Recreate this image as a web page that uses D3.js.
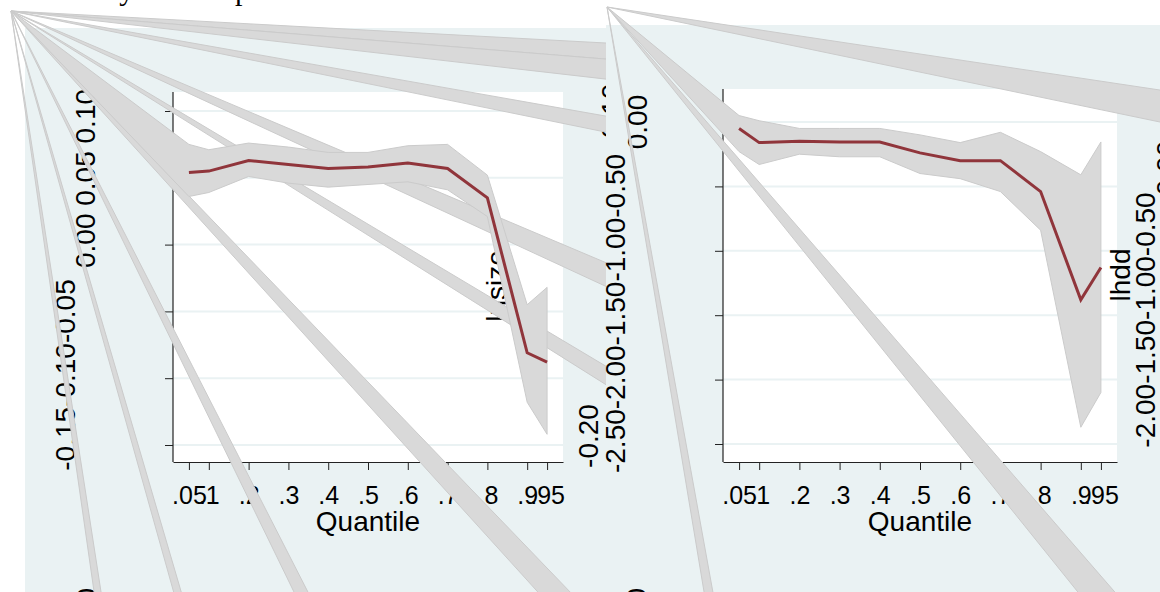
<!DOCTYPE html>
<html>
<head>
<meta charset="utf-8">
<script src="https://cdn.jsdelivr.net/npm/d3@7"></script>
<style>
html,body{margin:0;padding:0;background:#ffffff;}
svg{display:block;}
</style>
</head>
<body>
<svg id="chart" width="1160" height="592"></svg>
<script>
// ---------------- data ----------------
const quantiles    = [0.05, 0.1, 0.2, 0.3, 0.4, 0.5, 0.6, 0.7, 0.8, 0.9, 0.95];
const xTickLabels  = [".05", ".1", ".2", ".3", ".4", ".5", ".6", ".7", ".8", ".9", ".95"];

// panel 1 : lnsize
const sizeCoef  = [0.054, 0.055, 0.063, 0.060, 0.057, 0.058, 0.061, 0.057, 0.035, -0.081, -0.088];
const sizeUpper = [0.075, 0.071, 0.076, 0.073, 0.069, 0.069, 0.074, 0.075, 0.052, -0.045, -0.032];
const sizeLower = [0.036, 0.039, 0.051, 0.046, 0.043, 0.045, 0.047, 0.041, 0.021, -0.118, -0.142];
const sizeTicks = [-0.15, -0.10, -0.05, 0.00, 0.05, 0.10];
const sizeLabelsA = ["0.00", "0.05", "0.10"];
const sizeLabelsB = ["-0.15", "-0.10", "-0.05"];
const sizeLabelsC = ["-0.20"];
const sizeLabelsD = ["0.10"];

// panel 2 : lhdd
const hddCoef  = [-0.05, -0.16, -0.15, -0.155, -0.155, -0.24, -0.30, -0.30, -0.54, -1.38, -1.13];
const hddUpper = [0.05, 0.01, -0.05, -0.05, -0.05, -0.10, -0.16, -0.08, -0.23, -0.41, -0.155];
const hddLower = [-0.23, -0.33, -0.25, -0.27, -0.27, -0.40, -0.44, -0.54, -0.84, -2.37, -2.10];
const hddTicks = [-2.5, -2.0, -1.5, -1.0, -0.5, 0.0];
const hddLabelsA = ["-2.50", "-2.00", "-1.50", "-1.00", "-0.50"];
const hddLabelsB = ["0.00"];
const hddLabelsC = ["-2.00", "-1.50", "-1.00", "-0.50"];
const hddLabelsD = ["0.00"];

const titleText = "Elasticity of total price";
const xTitle = "Quantile";
const nextRowLabel = "0.00";

// ---------------- layout / style ----------------
const FONT = "'Liberation Sans', Arial, Helvetica, sans-serif";
const SERIF = "'Liberation Serif', 'Times New Roman', serif";
const BG = "#eaf2f3";
const BAND = "#d9d9d9";
const BAND_EDGE = "#cbcbcb";
const RED = "#90353b";

const svg = d3.select("#chart");

svg.append("text")
  .attr("x", 21).attr("y", 0)
  .attr("font-family", SERIF).attr("font-size", 30)
  .text(titleText);

const panels = [
  {
    bg: {x: 25, y: 28, w: 581, h: 600},
    plot: {x0: 173, x1: 563, y0: 92, y1: 462},
    yDomain: [-0.15, 0.10], yRange: [445, 111],
    ticks: sizeTicks,
    coef: sizeCoef, upper: sizeUpper, lower: sizeLower,
    origin: [11, 11],
    ghostWedges: [[3.08, 4.62], [4.62, 6.53], [10.02, 11.51], [22.93, 24.84], [30.84, 32.13],
                  [46.1, 47.8], [62.93, 64.03], [73.67, 74.36], [81.19, 81.86]],
    labels: [
      {text: sizeLabelsA.join(" "), x: 85, y: 178.5},
      {text: sizeLabelsB.join(""), x: 65, y: 375},
      {text: sizeLabelsC.join(""), x: 588, y: 436},
      {text: sizeLabelsD.join(""), x: 611, y: 111}
    ],
    yTitle: "lnsize", yTitlePos: [496, 286],
    nextRow: [86, 588]
  },
  {
    bg: {x: 606, y: 25, w: 554, h: 600},
    plot: {x0: 723, x1: 1117, y0: 89, y1: 462},
    yDomain: [-2.5, 0], yRange: [444, 122],
    ticks: hddTicks,
    coef: hddCoef, upper: hddUpper, lower: hddLower,
    origin: [607, 7],
    ghostWedges: [[8.54, 11.75], [49.04, 51.17], [79.74, 80.58]],
    labels: [
      {text: hddLabelsA.join(""), x: 615, y: 313.5},
      {text: hddLabelsB.join(""), x: 637, y: 122},
      {text: hddLabelsC.join(""), x: 1145, y: 320},
      {text: hddLabelsD.join(""), x: 1166, y: 168}
    ],
    yTitle: "lhdd", yTitlePos: [1120, 275],
    nextRow: [636, 588]
  }
];

const rad = d => d * Math.PI / 180;
const wedgeArc = d3.arc().innerRadius(0).outerRadius(1500);

function vText(g, txt, x, y, anchor) {
  g.append("text")
    .attr("transform", `translate(${x},${y}) rotate(-90)`)
    .attr("text-anchor", anchor || "middle")
    .attr("dominant-baseline", "central")
    .attr("font-family", FONT).attr("font-size", 28)
    .attr("fill", "#000")
    .text(txt);
}

panels.forEach(p => {
  const g = svg.append("g");
  g.append("rect").attr("x", p.bg.x).attr("y", p.bg.y)
    .attr("width", p.bg.w).attr("height", p.bg.h).attr("fill", BG);
  g.append("rect").attr("x", p.plot.x0).attr("y", p.plot.y0)
    .attr("width", p.plot.x1 - p.plot.x0).attr("height", p.plot.y1 - p.plot.y0)
    .attr("fill", "#ffffff");

  const x = d3.scaleLinear().domain([0.01, 0.99]).range([p.plot.x0, p.plot.x1]);
  const y = d3.scaleLinear().domain(p.yDomain).range(p.yRange);

  // gridlines
  g.append("g").selectAll("line").data(p.ticks).join("line")
    .attr("x1", p.plot.x0).attr("x2", p.plot.x1)
    .attr("y1", d => y(d)).attr("y2", d => y(d))
    .attr("stroke", BG).attr("stroke-width", 2);

  // y axis
  const ya = g.append("g").attr("transform", `translate(${p.plot.x0},0)`)
    .call(d3.axisLeft(y).tickValues(p.ticks).tickFormat("").tickSize(8).tickSizeOuter(0));
  ya.select(".domain").remove();
  ya.selectAll("line").attr("stroke", "#222");
  g.append("line").attr("x1", p.plot.x0).attr("x2", p.plot.x0)
    .attr("y1", p.plot.y0).attr("y2", p.plot.y1).attr("stroke", "#222").attr("stroke-width", 1.2);

  // x axis
  const xa = g.append("g").attr("transform", `translate(0,${p.plot.y1})`)
    .call(d3.axisBottom(x).tickValues(quantiles).tickFormat((d, i) => xTickLabels[i])
      .tickSize(8).tickSizeOuter(0).tickPadding(16));
  xa.select(".domain").attr("stroke", "#222").attr("stroke-width", 1.2);
  xa.selectAll("line").attr("stroke", "#222");
  xa.selectAll("text").attr("font-family", FONT).attr("font-size", 25).attr("fill", "#000");

  g.append("text")
    .attr("x", (p.plot.x0 + p.plot.x1) / 2).attr("y", 531)
    .attr("text-anchor", "middle")
    .attr("font-family", FONT).attr("font-size", 28)
    .text(xTitle);

  // y tick label blocks
  p.labels.forEach(l => vText(g, l.text, l.x, l.y));
  vText(g, p.yTitle, p.yTitlePos[0], p.yTitlePos[1]);
  vText(g, nextRowLabel, p.nextRow[0], p.nextRow[1], "end");

  // ghost wedges
  g.append("g").selectAll("path").data(p.ghostWedges).join("path")
    .attr("transform", `translate(${p.origin[0]},${p.origin[1]})`)
    .attr("d", d => wedgeArc({startAngle: rad(d[0] + 90), endAngle: rad(d[1] + 90)}))
    .attr("fill", BAND).attr("stroke", BAND_EDGE).attr("stroke-width", 1);

  // own confidence band (with the stray origin vertex)
  const pts = [p.origin]
    .concat(quantiles.map((q, i) => [x(q), y(p.upper[i])]))
    .concat(quantiles.map((q, i) => [x(q), y(p.lower[i])]).reverse());
  g.append("path").attr("d", d3.line()(pts) + "Z")
    .attr("fill", BAND).attr("stroke", BAND_EDGE).attr("stroke-width", 1);

  // coefficient line
  g.append("path")
    .attr("d", d3.line().x((d, i) => x(quantiles[i])).y(d => y(d))(p.coef))
    .attr("fill", "none").attr("stroke", RED).attr("stroke-width", 3)
    .attr("stroke-linejoin", "miter");
});
</script>
</body>
</html>
